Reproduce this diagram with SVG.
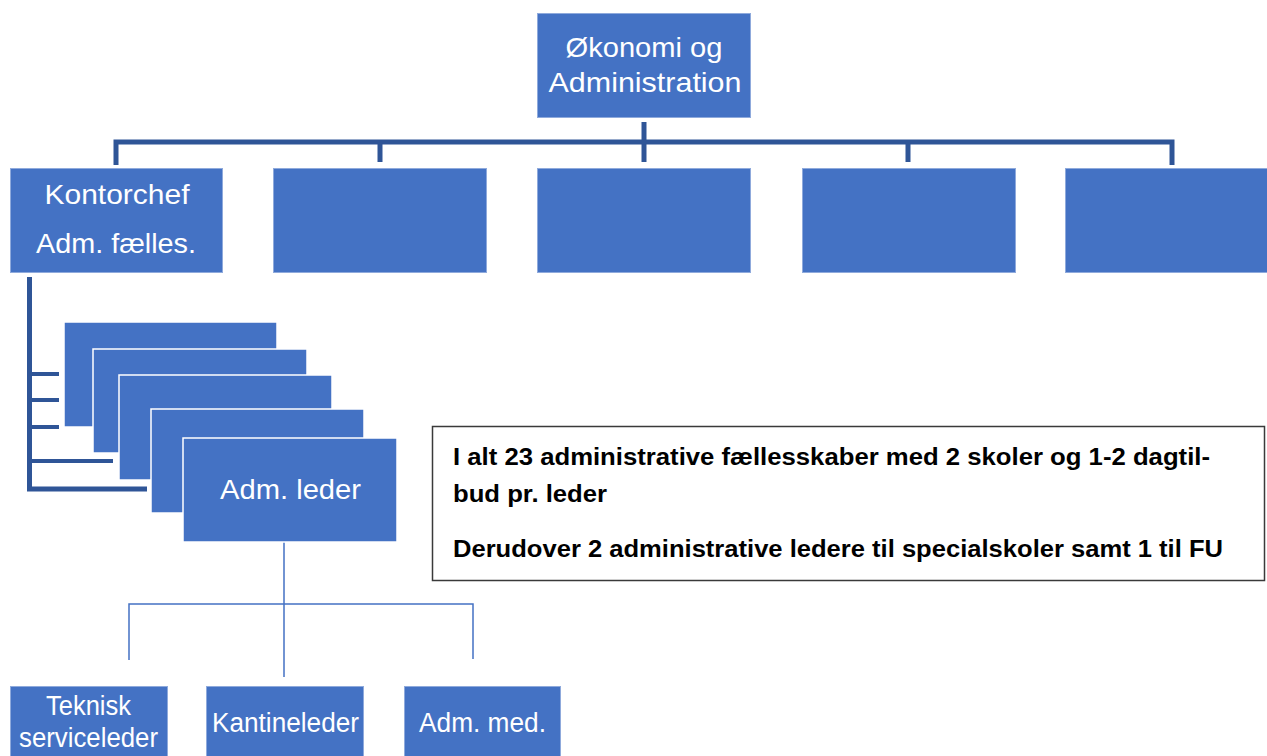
<svg xmlns="http://www.w3.org/2000/svg" width="1267" height="756" viewBox="0 0 1267 756">
<style>
.box{fill:#4472C4;stroke:#8FAADC;stroke-width:1}
.stack{fill:#4472C4;stroke:#FFFFFF;stroke-width:1.5}
.lbl{font-family:"Liberation Sans",Arial,sans-serif;font-size:28px;fill:#FFFFFF;text-anchor:middle}
.sm{font-size:27px}
.thick{stroke:#2F5597;stroke-width:5;fill:none}
.stub{stroke:#2F5597;stroke-width:4;fill:none}
.thin{stroke:#4472C4;stroke-width:1.5;fill:none}
.note{font-family:"Liberation Sans",Arial,sans-serif;font-size:23px;font-weight:bold;fill:#000000}
</style>
<rect width="1267" height="756" fill="#FFFFFF"/>
<g id="connectors">
<path class="thick" d="M644 122V162"/>
<path class="thick" d="M116 165V142H1172V165"/>
<path class="thick" d="M380 142V162M908 142V162"/>
<path class="thick" d="M29.5 277V489H147"/>
<path class="stub" d="M29.5 374H59M29.5 400H59M29.5 427H59M29.5 461H113"/>
<path class="thin" d="M284 542V677M129 660V604H473V659"/>
</g>
<g id="n-top"><rect class="box" x="537.5" y="13.5" width="213" height="104"/>
<text class="lbl" x="644" y="57" textLength="157" lengthAdjust="spacingAndGlyphs">Økonomi og</text>
<text class="lbl" x="645" y="92" textLength="193" lengthAdjust="spacingAndGlyphs">Administration</text></g>
<g id="n-kontorchef"><rect class="box" x="10.5" y="168.5" width="212" height="104"/>
<text class="lbl" x="117" y="204" textLength="145" lengthAdjust="spacingAndGlyphs">Kontorchef</text>
<text class="lbl" x="116" y="253" textLength="160" lengthAdjust="spacingAndGlyphs">Adm. fælles.</text></g>
<g id="n-box2"><rect class="box" x="273.5" y="168.5" width="213" height="104"/></g>
<g id="n-box3"><rect class="box" x="537.5" y="168.5" width="213" height="104"/></g>
<g id="n-box4"><rect class="box" x="802.5" y="168.5" width="213" height="104"/></g>
<g id="n-box5"><rect class="box" x="1065.5" y="168.5" width="205" height="104"/></g>
<g id="n-stack1"><rect class="stack" x="64" y="322" width="213" height="105"/></g>
<g id="n-stack2"><rect class="stack" x="93" y="349" width="214" height="104"/></g>
<g id="n-stack3"><rect class="stack" x="119" y="375" width="213" height="105"/></g>
<g id="n-stack4"><rect class="stack" x="151" y="409" width="213" height="104"/></g>
<g id="n-admleder"><rect class="stack" x="183" y="438" width="214" height="104"/>
<text class="lbl" x="290.5" y="499" textLength="141" lengthAdjust="spacingAndGlyphs">Adm. leder</text></g>
<g id="n-teknisk"><rect class="box" x="10.5" y="686.5" width="157" height="80"/>
<text class="lbl sm" x="88.5" y="715" textLength="85" lengthAdjust="spacingAndGlyphs">Teknisk</text>
<text class="lbl sm" x="88.5" y="747" textLength="139" lengthAdjust="spacingAndGlyphs">serviceleder</text></g>
<g id="n-kantine"><rect class="box" x="206.5" y="686.5" width="157" height="80"/>
<text class="lbl sm" x="285.5" y="732" textLength="147" lengthAdjust="spacingAndGlyphs">Kantineleder</text></g>
<g id="n-admmed"><rect class="box" x="404.5" y="686.5" width="156" height="80"/>
<text class="lbl sm" x="482.5" y="732" textLength="127" lengthAdjust="spacingAndGlyphs">Adm. med.</text></g>
<g id="n-note"><rect x="432.5" y="426.5" width="832" height="154" fill="#FFFFFF" stroke="#3A3A3A" stroke-width="1.5"/>
<text class="note" x="453" y="465" textLength="757" lengthAdjust="spacingAndGlyphs">I alt 23 administrative fællesskaber med 2 skoler og 1-2 dagtil-</text>
<text class="note" x="453" y="502" textLength="154" lengthAdjust="spacingAndGlyphs">bud pr. leder</text>
<text class="note" x="453" y="557" textLength="770" lengthAdjust="spacingAndGlyphs">Derudover 2 administrative ledere til specialskoler samt 1 til FU</text></g>
</svg>
